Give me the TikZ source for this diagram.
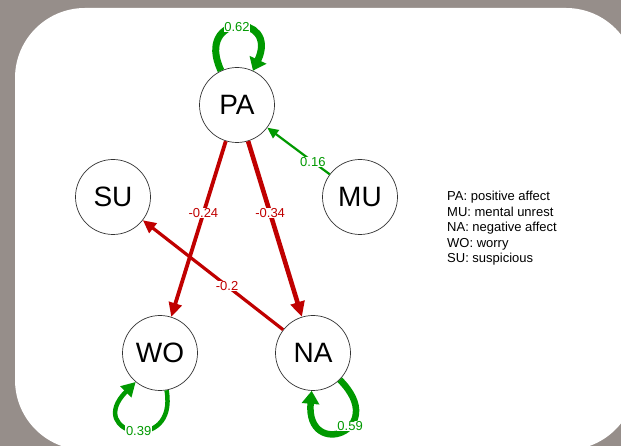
\documentclass[tikz,border=0pt]{standalone}
\usepackage{fontspec}
\setmainfont{Liberation Sans}
\usetikzlibrary{arrows.meta}
\definecolor{bggray}{HTML}{968E8A}
\definecolor{posgreen}{HTML}{009900}
\definecolor{negred}{HTML}{C00000}
\begin{document}
\begin{tikzpicture}[x=1pt,y=1pt,
  var/.style={circle,draw=black!80,line width=0.7pt,fill=white,minimum size=75pt,
    inner sep=0pt,font=\fontsize{28}{28}\selectfont},
  posedge/.style={draw=posgreen},
  negedge/.style={draw=negred},
  wlabel/.style={fill=white,inner sep=0.6pt,font=\fontsize{13}{13}\selectfont},
  head/.style 2 args={-{Triangle[length=#1,width=#2]}}]
\useasboundingbox (0,0) rectangle (621,446);
% backdrop and white panel
\fill[bggray] (0,0) rectangle (621,446);
\begin{scope}
  \clip (0,0) rectangle (621,446);
  \fill[white,rounded corners=70pt] (15,-4) rectangle (636,438);
\end{scope}

% variables
\node[var] (PA) at (237,341) {PA};
\node[var] (SU) at (113,249) {SU};
\node[var] (MU) at (360,249) {MU};
\node[var] (WO) at (160,93) {WO};
\node[var] (NA) at (313,93) {NA};

% cross-lagged edges
\draw[negedge,line width=3.8pt,head={14pt}{13pt}] (PA) -- node[wlabel,text=negred,pos=0.41]{-0.24} (WO);
\draw[negedge,line width=4.6pt,head={15pt}{14pt}] (PA) -- node[wlabel,text=negred,pos=0.41]{-0.34} (NA);
\draw[negedge,line width=3.2pt,head={13pt}{12pt}] (NA) -- node[wlabel,text=negred,pos=0.40]{-0.2} (SU);
\draw[posedge,line width=2.2pt,head={11pt}{10pt}] (MU) -- node[wlabel,text=posgreen,pos=0.27]{0.16} (PA);

% autoregressive loops
\draw[posedge,line width=7pt,head={12pt}{18pt}]
  (PA.115) .. controls +(115:64) and +(65:64) .. node[wlabel,text=posgreen,pos=0.5]{0.62} (PA.65);
\draw[posedge,line width=4.5pt,head={14pt}{15pt}]
  (WO.280) .. controls +(280:66) and +(225:74) .. node[wlabel,text=posgreen,pos=0.47]{0.39} (WO.230);
\draw[posedge,line width=6.5pt,head={13pt}{17pt}]
  (NA.315) .. controls +(315:72) and +(265:70) .. node[wlabel,text=posgreen,pos=0.4]{0.59} (NA.268);

% key to the abbreviations
\node[anchor=north west,align=left,inner sep=0pt,font=\fontsize{13}{15.5}\selectfont] (key) at (447,255)
  {PA: positive affect\\MU: mental unrest\\NA: negative affect\\WO: worry\\SU: suspicious};
\end{tikzpicture}
\end{document}
